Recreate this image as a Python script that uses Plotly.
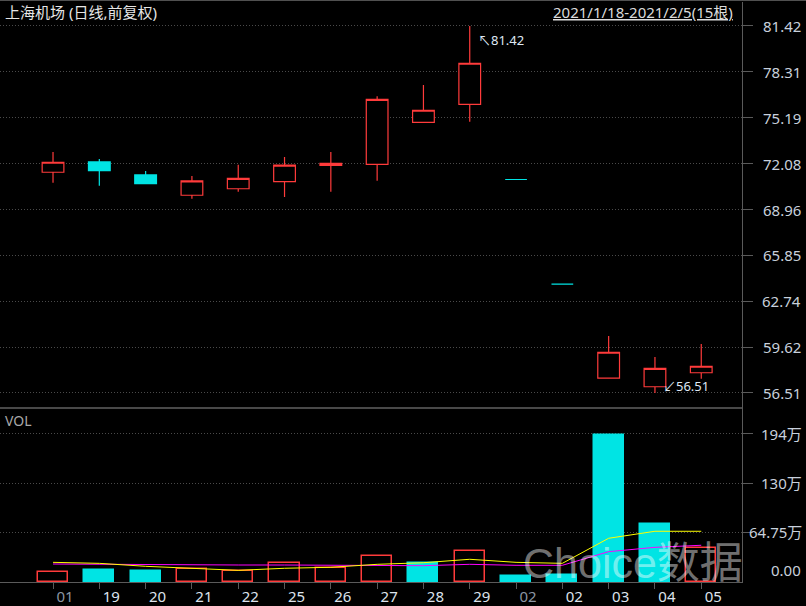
import plotly.graph_objects as go

# ---------------- data ----------------
dates = ["2021-01-18", "2021-01-19", "2021-01-20", "2021-01-21", "2021-01-22",
         "2021-01-25", "2021-01-26", "2021-01-27", "2021-01-28", "2021-01-29",
         "2021-02-01", "2021-02-02", "2021-02-03", "2021-02-04", "2021-02-05"]
x_labels = ["01", "19", "20", "21", "22", "25", "26", "27", "28", "29",
            "02", "02", "03", "04", "05"]
opens = [71.49, 72.19, 71.31, 69.93, 70.37, 70.85, 71.96, 72.03, 74.88, 76.10,
         71.00, 63.90, 57.51, 56.93, 57.88]
highs = [72.87, 72.39, 71.58, 71.24, 72.00, 72.53, 72.87, 76.65, 77.41, 81.42,
         71.00, 63.90, 60.37, 58.95, 59.83]
lows = [70.78, 70.58, 70.71, 69.70, 70.17, 69.81, 70.17, 70.92, 74.88, 74.92,
        71.00, 63.90, 57.51, 56.51, 57.48]
closes = [72.17, 71.60, 70.71, 70.90, 71.08, 71.98, 72.10, 76.44, 75.70, 78.89,
          71.00, 63.90, 59.27, 58.18, 58.32]
volumes = [12.6, 15.6, 14.3, 16.5, 13.9, 24.4, 17.9, 33.6, 24.4, 40.2,
           7.8, 9.1, 192.9, 76.0, 44.5]          # 万
ma5 = [25.3, 24.0, 20.1, 17.0, 14.8, 17.5, 18.8, 22.7, 24.8, 29.3,
       25.3, 24.0, 56.9, 66.1, 66.1]
ma10 = [23.1, 22.7, 21.8, 21.8, 21.8, 21.8, 21.8, 21.4, 20.9, 22.7,
        21.4, 21.4, 39.3, 45.0, 47.7]
price_ticks = [81.42, 78.31, 75.19, 72.08, 68.96, 65.85, 62.74, 59.62, 56.51]
vol_ticks = [64.75, 129.5, 194.25]
vol_tick_labels = ["64.75万", "130万", "194万"]
title_text = "上海机场 (日线,前复权)"
range_text = "2021/1/18-2021/2/5(15根)"
max_price = 81.42
min_price = 56.51

# ---------------- style ----------------
RED = "#ff3b3b"
CYAN = "#00e4e4"
AXIS = "#5a5a5a"
GRID = "#4a4a4a"
LABEL = "#c8d0dc"
FONT = "Noto Sans, Noto Sans CJK SC, DejaVu Sans"

xs = list(range(len(dates)))

fig = go.Figure()

fig.add_trace(go.Candlestick(
    x=xs, open=opens, high=highs, low=lows, close=closes,
    xaxis="x", yaxis="y",
    increasing=dict(line=dict(color=RED, width=1.2), fillcolor="#000000"),
    decreasing=dict(line=dict(color=CYAN, width=1.2), fillcolor=CYAN),
    whiskerwidth=0, hoverinfo="skip",
))

# volume colours: compare close with previous close
vol_up = [True] + [closes[i] >= closes[i - 1] for i in range(1, len(closes))]
fig.add_trace(go.Bar(
    x=xs, y=volumes, xaxis="x", yaxis="y2", width=0.65,
    marker=dict(color=["#000000" if u else CYAN for u in vol_up],
                line=dict(color=[RED if u else CYAN for u in vol_up], width=1.5)),
    hoverinfo="skip",
))
fig.add_trace(go.Scatter(x=xs, y=ma10, xaxis="x", yaxis="y2", mode="lines",
                         line=dict(color="#ff00ff", width=1), hoverinfo="skip"))
fig.add_trace(go.Scatter(x=xs, y=ma5, xaxis="x", yaxis="y2", mode="lines",
                         line=dict(color="#ffff00", width=1), hoverinfo="skip"))

ticktext = []
for d, t in zip(dates, x_labels):
    col = "#8c96a4" if t != d[-2:] else "#dde3ec"
    ticktext.append(f'<span style="color:{col}">{t}</span>')

fig.update_layout(
    width=806, height=606,
    margin=dict(l=0, r=64, t=2, b=24),
    paper_bgcolor="#000000", plot_bgcolor="#000000",
    showlegend=False, boxgap=0.33, bargap=0,
    font=dict(family=FONT, size=15, color=LABEL),
    xaxis=dict(range=[-1.145, 14.88], anchor="y2", tickmode="array",
               tickvals=xs, ticktext=ticktext, ticks="outside", ticklen=6,
               tickcolor=AXIS, showline=True, linecolor=AXIS, linewidth=1,
               showgrid=False, zeroline=False, ticklabelshift=12,
               ticklabelstandoff=-5, automargin=False,
               rangeslider=dict(visible=False), fixedrange=True,
               tickfont=dict(size=15)),
    yaxis=dict(domain=[0.3, 1], range=[55.486, 83.049], side="right", anchor="x",
               tickmode="array", tickvals=price_ticks, showticklabels=False,
               ticks="outside", ticklen=10, tickcolor=AXIS, showline=True,
               linecolor=AXIS, showgrid=True, gridcolor=GRID, griddash="1px,2px",
               zeroline=False, automargin=False),
    yaxis2=dict(domain=[0, 0.3], range=[-0.525, 228.0], side="right", anchor="x",
                tickmode="array", tickvals=vol_ticks, showticklabels=False,
                ticks="outside", ticklen=10, tickcolor=AXIS, showline=True,
                linecolor=AXIS, showgrid=True, gridcolor=GRID, griddash="1px,2px",
                zeroline=False, automargin=False),
)

ann = []
for v in price_ticks:
    ann.append(dict(xref="paper", yref="y", x=1, y=v, xanchor="right",
                    yanchor="middle", xshift=61, text=f"{v:.2f}", showarrow=False,
                    font=dict(size=15, color=LABEL)))
for v, t in zip(vol_ticks, vol_tick_labels):
    ann.append(dict(xref="paper", yref="y2", x=1, y=v, xanchor="right",
                    yanchor="middle", xshift=62, text=t, showarrow=False,
                    font=dict(size=15, color=LABEL)))
ann.append(dict(xref="paper", yref="y2", x=1, y=0, xanchor="right",
                yanchor="middle", xshift=61, yshift=12, text="0.00",
                showarrow=False, font=dict(size=15, color=LABEL)))
# max / min markers
imax = highs.index(max_price)
imin = lows.index(min_price)
ann.append(dict(x=xs[imax], y=max_price, xref="x", yref="y", xanchor="left",
                yanchor="middle", xshift=6, yshift=-14, showarrow=False,
                text=f"↖{max_price:.2f}", font=dict(size=13, color="#dfe8f4")))
ann.append(dict(x=xs[imin], y=min_price, xref="x", yref="y", xanchor="left",
                yanchor="middle", xshift=6, yshift=7, showarrow=False,
                text=f"↙{min_price:.2f}", font=dict(size=13, color="#dfe8f4")))
# header texts
ann.append(dict(xref="paper", yref="paper", x=3 / 742, y=(582 - 12) / 580,
                xanchor="left", yanchor="middle", showarrow=False,
                text=title_text, font=dict(size=15, color="#e6e6e6")))
ann.append(dict(xref="paper", yref="paper", x=735 / 742, y=(582 - 12) / 580,
                xanchor="right", yanchor="middle", showarrow=False,
                text=f"<u>{range_text}</u>", font=dict(size=15, color="#dcdcdc")))
ann.append(dict(xref="paper", yref="paper", x=3 / 742, y=(582 - 420) / 580,
                xanchor="left", yanchor="middle", showarrow=False,
                text="VOL", font=dict(size=14, color="#a8a8a8")))
# watermark
ann.append(dict(xref="paper", yref="paper", x=633 / 742, y=(582 - 563) / 580,
                xanchor="center", yanchor="middle", showarrow=False,
                text="Choice数据",
                font=dict(size=43, family="Liberation Sans, Noto Sans CJK SC",
                          color="rgba(255,255,255,0.45)")))
fig.update_layout(annotations=ann)

fig.update_layout(shapes=[
    dict(type="line", xref="paper", yref="paper", x0=0, x1=1, y0=0.3, y1=0.3,
         line=dict(color="#606060", width=1.5)),
    dict(type="line", xref="paper", yref="paper", x0=0, x1=806 / 742,
         y0=1 + 1.5 / 580, y1=1 + 1.5 / 580, line=dict(color="#505050", width=1)),
])

fig.write_html(
    "out.html",
    config={"displayModeBar": False},
    post_script="document.body.style.margin='0';document.body.style.background='#000';",
)
